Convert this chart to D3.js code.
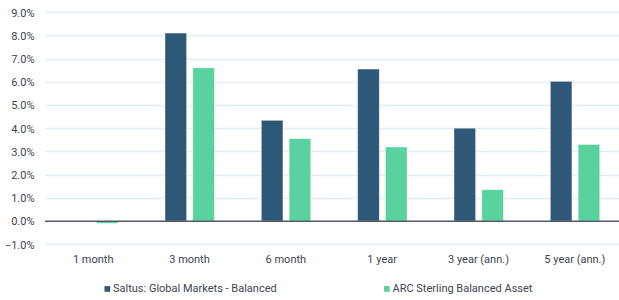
<!DOCTYPE html>
<html>
<head>
<meta charset="utf-8">
<script src="https://cdn.jsdelivr.net/npm/d3@7"></script>
<style>
  body { margin: 0; background: #fff; }
  svg text { font-family: Roboto, "Noto Sans", sans-serif; fill: #3d4450; }
</style>
</head>
<body>
<div id="chart"></div>
<script>
'use strict';

var categories = ['1 month', '3 month', '6 month', '1 year', '3 year (ann.)', '5 year (ann.)'];
var seriesNames = ['Saltus: Global Markets - Balanced', 'ARC Sterling Balanced Asset'];
var saltus = [0.0, 8.1, 4.34, 6.55, 4.0, 6.02];
var arc = [-0.1, 6.6, 3.55, 3.19, 1.35, 3.3];
var yTicks = [-1, 0, 1, 2, 3, 4, 5, 6, 7, 8, 9];
var colors = ['#2f5778', '#5ad2a0'];

var width = 619, height = 300;

var svg = d3.select('#chart').append('svg')
  .attr('width', width)
  .attr('height', height);

var y = d3.scaleLinear().domain([-1, 9]).range([244.2, 12.2]);
var x = d3.scaleBand().domain(categories).range([45, 623]);

var grid = svg.append('g');
grid.selectAll('line')
  .data(yTicks.filter(function(d) { return d !== 0; }))
  .enter().append('line')
  .attr('x1', 45).attr('x2', width)
  .attr('y1', function(d) { return Math.round(y(d)) + 0.5; })
  .attr('y2', function(d) { return Math.round(y(d)) + 0.5; })
  .attr('stroke', '#e4ebf3')
  .attr('stroke-width', 1.3);

svg.append('g').selectAll('text')
  .data(yTicks)
  .enter().append('text')
  .attr('x', 34.5)
  .attr('y', function(d) { return y(d) + 4.3; })
  .attr('text-anchor', 'end')
  .style('font-size', '11px')
  .text(function(d) { return d3.format('.1f')(d) + '%'; });

var series = [saltus, arc];
var offsets = [-24.5, 3.3];
var barW = 21.6;

series.forEach(function(vals, si) {
  svg.append('g').selectAll('rect')
    .data(vals)
    .enter().append('rect')
    .attr('x', function(d, i) { return x(categories[i]) + x.bandwidth() / 2 + offsets[si]; })
    .attr('y', function(d) { return y(Math.max(0, d)); })
    .attr('width', barW)
    .attr('height', function(d) { return Math.abs(y(d) - y(0)); })
    .attr('fill', colors[si])
    .attr('stroke', '#ffffff')
    .attr('stroke-opacity', 0.5)
    .attr('stroke-width', 0.8);
});

svg.append('line')
  .attr('x1', 45).attr('x2', width)
  .attr('y1', y(0) + 0.3).attr('y2', y(0) + 0.3)
  .attr('stroke', '#4f5864')
  .attr('stroke-width', 1.5);

svg.append('g').selectAll('text')
  .data(categories)
  .enter().append('text')
  .attr('x', function(d) { return x(d) + x.bandwidth() / 2; })
  .attr('y', 263)
  .attr('text-anchor', 'middle')
  .style('font-size', '11px')
  .text(function(d) { return d; });

var legendX = [104.5, 384];
var legend = svg.append('g').selectAll('g')
  .data(seriesNames)
  .enter().append('g')
  .attr('transform', function(d, i) { return 'translate(' + legendX[i] + ',292.3)'; });

legend.append('rect')
  .attr('x', 0).attr('y', -6.2)
  .attr('width', 5.7).attr('height', 5.7)
  .attr('fill', function(d, i) { return colors[i]; });

legend.append('text')
  .attr('x', 8.5)
  .attr('y', 0)
  .style('font-size', '11px')
  .text(function(d) { return d; });
</script>
</body>
</html>
